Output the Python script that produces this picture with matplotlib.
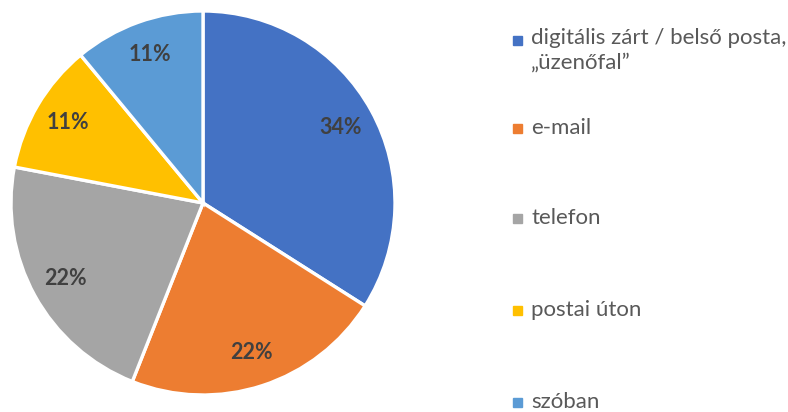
import matplotlib.pyplot as plt
from matplotlib.patches import Rectangle

categories = ["digitális zárt / belső posta,\n„üzenőfal”", "e-mail", "telefon",
              "postai úton", "szóban"]
values = [34, 22, 22, 11, 11]
colors = ["#4472C4", "#ED7D31", "#A5A5A5", "#FFC000", "#5B9BD5"]
legend_y = [40, 128, 218, 310, 402]

plt.rcParams['font.family'] = ['Lato', 'DejaVu Sans']

fig = plt.figure(figsize=(7.88, 4.12), dpi=100)
ax = fig.add_axes([11 / 788, 17 / 412, 384 / 788, 384 / 412])

wedges, texts, autotexts = ax.pie(
    values, colors=colors, startangle=90, counterclock=False,
    autopct=lambda p: "%d%%" % round(p), pctdistance=0.82,
    wedgeprops=dict(edgecolor="white", linewidth=2.4),
    textprops=dict(color="#404040", fontsize=15.5, fontweight="bold"))
ax.set_xlim(-1.0, 1.0)
ax.set_ylim(-1.0, 1.0)
ax.set_aspect("equal")

# legend drawn by hand so the two-line entry lines up like the others
for name, col, y in zip(categories, colors, legend_y):
    yf = 1 - y / 412
    fig.patches.append(Rectangle((513 / 788, yf - 4.5 / 412), 9 / 788, 9 / 412,
                                 transform=fig.transFigure, color=col))
    fig.text(531 / 788, yf, name, fontsize=16, color="#595959",
             va="top" if "\n" in name else "center",
             linespacing=1.3)
fig.texts[0].set_y(1 - (40 - 12) / 412)

plt.savefig("out.png", dpi=100)
plt.close()
